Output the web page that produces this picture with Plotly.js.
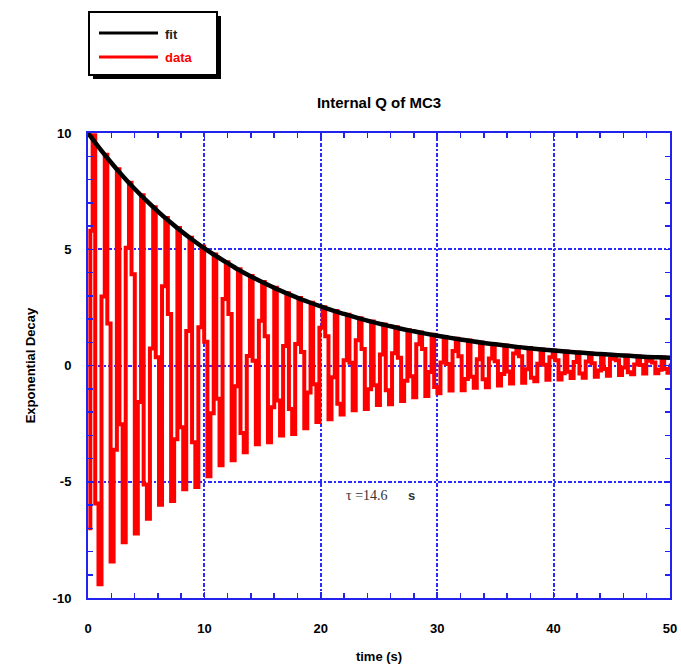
<!DOCTYPE html>
<html><head><meta charset="utf-8">
<script src="https://cdn.plot.ly/plotly-3.0.1.min.js"></script>
<style>html,body{margin:0;padding:0;background:#fff}#chart{width:681px;height:667px}</style>
</head><body><div id="chart"></div>
<script>
const fitTime = [0,1,2,3,4,5,6,7,8,9,10,11,12,13,14,15,16,17,18,19,20,21,22,23,24,25,26,27,28,29,30,31,32,33,34,35,36,37,38,39,40,41,42,43,44,45,46,47,48,49,50];
const fitValue = [10.00,9.34,8.72,8.14,7.60,7.10,6.63,6.19,5.78,5.40,5.04,4.71,4.40,4.10,3.83,3.58,3.34,3.12,2.91,2.72,2.54,2.37,2.22,2.07,1.93,1.80,1.69,1.57,1.47,1.37,1.28,1.20,1.12,1.04,0.97,0.91,0.85,0.79,0.74,0.69,0.65,0.60,0.56,0.53,0.49,0.46,0.43,0.40,0.37,0.35,0.33];

const dataTime = [0.02,0.20,
0.40,0.62,0.90,1.16, 1.44,1.66,1.94,2.20, 2.48,2.70,2.98,3.24, 3.52,3.74,4.02,4.28,
4.56,4.78,5.06,5.32, 5.60,5.82,6.10,6.36, 6.64,6.86,7.14,7.40, 7.68,7.90,8.18,8.44,
8.72,8.94,9.22,9.48, 9.76,9.98,10.26,10.52, 10.80,11.02,11.30,11.56, 11.84,12.06,12.34,12.60,
12.88,13.10,13.38,13.64, 13.92,14.14,14.42,14.68, 14.96,15.18,15.46,15.72, 16.00,16.22,16.50,16.76,
17.04,17.26,17.54,17.80, 18.08,18.30,18.58,18.84, 19.12,19.34,19.62,19.88, 20.16,20.38,20.66,20.92,
21.20,21.42,21.70,21.96, 22.24,22.46,22.74,23.00, 23.28,23.50,23.78,24.04, 24.32,24.54,24.82,25.08,
25.36,25.58,25.86,26.12, 26.40,26.62,26.90,27.16, 27.44,27.66,27.94,28.20, 28.48,28.70,28.98,29.24,
29.52,29.74,30.02,30.28, 30.56,30.78,31.06,31.32, 31.60,31.82,32.10,32.36, 32.64,32.86,33.14,33.40,
33.68,33.90,34.18,34.44, 34.72,34.94,35.22,35.48, 35.76,35.98,36.26,36.52, 36.80,37.02,37.30,37.56,
37.84,38.06,38.34,38.60, 38.88,39.10,39.38,39.64, 39.92,40.14,40.42,40.68, 40.96,41.18,41.46,41.72,
42.00,42.22,42.50,42.76, 43.04,43.26,43.54,43.80, 44.08,44.30,44.58,44.84, 45.12,45.34,45.62,45.88,
46.16,46.38,46.66,46.92, 47.20,47.42,47.70,47.96, 48.24,48.46,48.74,49.00, 49.28,49.50,49.78,50.06];

const dataValue = [-7.0,5.8,
9.90,-5.94,-9.41,2.97, 9.06,1.81,-8.43,-3.62, 8.44,-2.53,-7.60,5.06, 7.86,3.93,-7.23,-1.57,
7.32,-5.12,-6.59,0.73, 6.81,0.35,-5.99,3.41, 6.34,2.22,-5.83,-3.17, 5.91,-2.66,-5.32,1.48,
5.50,-3.30,-5.23,1.65, 5.12,1.02,-4.76,-2.05, 4.77,-1.43,-4.29,2.86, 4.44,2.22,-4.08,-0.89,
4.14,-2.90,-3.73,0.41, 3.85,0.20,-3.39,1.93, 3.59,1.26,-3.30,-1.80, 3.34,-1.50,-3.01,0.84,
3.11,-1.87,-2.95,0.93, 2.90,0.58,-2.70,-1.16, 2.70,-0.81,-2.43,1.62, 2.51,1.26,-2.31,-0.50,
2.34,-1.64,-2.11,0.23, 2.18,0.12,-1.92,1.09, 2.03,0.71,-1.87,-1.02, 1.89,-0.85,-1.70,0.47,
1.76,-1.06,-1.67,0.53, 1.64,0.33,-1.53,-0.66, 1.52,-0.46,-1.37,0.91, 1.42,0.71,-1.31,-0.28,
1.32,-0.92,-1.19,0.13, 1.23,0.06,-1.08,0.62, 1.15,0.40,-1.06,-0.58, 1.07,-0.48,-0.96,0.27,
0.99,-0.59,-0.94,0.30, 0.92,0.18,-0.86,-0.37, 0.86,-0.26,-0.77,0.52, 0.80,0.40,-0.74,-0.16,
0.75,-0.53,-0.68,0.08, 0.69,0.03,-0.61,0.35, 0.65,0.23,-0.60,-0.33, 0.60,-0.27,-0.54,0.15,
0.56,-0.34,-0.53,0.17, 0.52,0.10,-0.48,-0.21, 0.49,-0.15,-0.44,0.29, 0.45,0.23,-0.41,-0.09,
0.42,-0.29,-0.38,0.04, 0.39,0.02,-0.34,0.20, 0.36,0.13,-0.33,-0.18, 0.34,-0.15,-0.31,0.09];

const xTickValues = [0,10,20,30,40,50];
const xTickLabels = ['0','10','20','30','40','50'];
const yTickValues = [-10,-5,0,5,10];
const yTickLabels = ['-10','-5','0','5','10'];
const seriesNames = ['fit','data'];
const tauLabel = 'τ =14.6';
const tauUnit = 's';

const BLUE = '#2323ee';
const GRID = '#2a2aff';
const FONT = 'Liberation Sans, Arial, Helvetica, sans-serif';

const traces = [
  {x: dataTime, y: dataValue, name: seriesNames[1], type: 'scatter', mode: 'lines',
   line: {color: '#ff0000', width: 4, simplify: false, shape: 'hv'}},
  {x: fitTime, y: fitValue, name: seriesNames[0], type: 'scatter', mode: 'lines',
   line: {color: '#000000', width: 4.5, simplify: false, shape: 'spline'}}
];

function px2x(p){ return (p - 88) / 582; }
function py2y(p){ return (598 - p) / 465; }

const layout = {
  width: 681, height: 667,
  margin: {l: 88, r: 11, t: 133, b: 69},
  paper_bgcolor: '#ffffff', plot_bgcolor: '#ffffff',
  showlegend: false,
  font: {family: FONT, size: 13, color: '#000', weight: 'bold'},
  title: {text: 'Internal Q of MC3', font: {family: FONT, size: 15, weight: 'bold', color: '#000'},
          x: 0.5, xref: 'paper', xanchor: 'center', y: 1 - 103/667, yref: 'container', yanchor: 'middle'},
  xaxis: {
    range: [0, 50], tickmode: 'array', tickvals: xTickValues, ticktext: xTickLabels,
    showline: true, linecolor: BLUE, linewidth: 2, mirror: 'ticks',
    ticks: 'inside', ticklen: 6, tickwidth: 1.5, tickcolor: BLUE,
    showgrid: true, gridcolor: GRID, gridwidth: 2, griddash: '4px,2px,2px,2px',
    zeroline: false, ticklabelstandoff: 17,
    tickfont: {family: FONT, size: 13, weight: 'bold', color: '#000'},
    minor: {tickmode: 'linear', tick0: 0, dtick: 2, ticks: 'inside', ticklen: 5, tickwidth: 1.5, tickcolor: BLUE, showgrid: false},
    title: {text: 'time (s)', standoff: 17, font: {family: FONT, size: 13, weight: 'bold', color: '#000'}}
  },
  yaxis: {
    range: [-10, 10], tickmode: 'array', tickvals: yTickValues, ticktext: yTickLabels,
    showline: true, linecolor: BLUE, linewidth: 2, mirror: 'ticks',
    ticks: 'inside', ticklen: 6, tickwidth: 1.5, tickcolor: BLUE,
    showgrid: true, gridcolor: GRID, gridwidth: 2, griddash: '4px,2px,2px,2px',
    zeroline: false, ticklabelstandoff: 12,
    tickfont: {family: FONT, size: 13, weight: 'bold', color: '#000'},
    minor: {tickmode: 'linear', tick0: 0, dtick: 1, ticks: 'inside', ticklen: 5, tickwidth: 1.5, tickcolor: BLUE, showgrid: false},
    title: {text: 'Exponential Decay', standoff: 14, font: {family: FONT, size: 13, weight: 'bold', color: '#000'}}
  },
  shapes: [
    {type: 'rect', xref: 'paper', yref: 'paper', x0: px2x(93), x1: px2x(221), y0: py2y(79), y1: py2y(16),
     fillcolor: '#000', line: {width: 0}},
    {type: 'rect', xref: 'paper', yref: 'paper', x0: px2x(89), x1: px2x(217), y0: py2y(75), y1: py2y(12),
     fillcolor: '#fff', line: {color: '#000', width: 2}},
    {type: 'line', xref: 'paper', yref: 'paper', x0: px2x(99), x1: px2x(158), y0: py2y(33), y1: py2y(33),
     line: {color: '#000', width: 3}},
    {type: 'line', xref: 'paper', yref: 'paper', x0: px2x(99), x1: px2x(158), y0: py2y(57), y1: py2y(57),
     line: {color: '#ff0000', width: 3}}
  ],
  annotations: [
    {xref: 'paper', yref: 'paper', x: px2x(163), y: py2y(34), xanchor: 'left', yanchor: 'middle', showarrow: false,
     text: seriesNames[0], font: {family: FONT, size: 13, weight: 'bold', color: '#222'}},
    {xref: 'paper', yref: 'paper', x: px2x(163), y: py2y(58), xanchor: 'left', yanchor: 'middle', showarrow: false,
     text: seriesNames[1], font: {family: FONT, size: 13, weight: 'bold', color: '#ff0000'}},
    {xref: 'x', yref: 'y', x: 22.0, y: -5.6, xanchor: 'left', yanchor: 'middle', showarrow: false,
     text: tauLabel, font: {family: 'Liberation Serif, Times New Roman, serif', size: 14, color: '#333', weight: 'normal'}},
    {xref: 'x', yref: 'y', x: 27.8, y: -5.6, xanchor: 'center', yanchor: 'middle', showarrow: false,
     text: tauUnit, font: {family: FONT, size: 13, color: '#333', weight: 'bold'}}
  ]
};

Plotly.newPlot('chart', traces, layout, {displayModeBar: false, staticPlot: true});
</script>
</body></html>
